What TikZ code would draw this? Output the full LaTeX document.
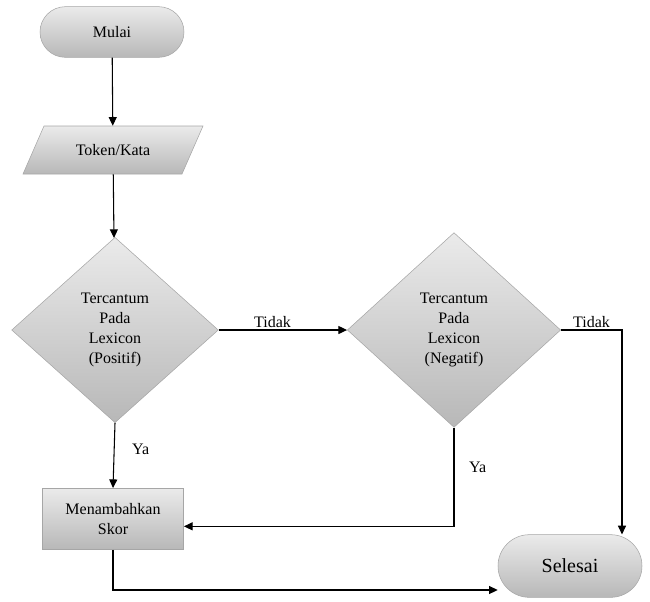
\documentclass[tikz,border=0pt]{standalone}
\usepackage{fontspec}
\setmainfont{Liberation Serif}
\usetikzlibrary{shapes.geometric,shapes.misc,arrows.meta}

\begin{document}
\begin{tikzpicture}[x=0.75pt,y=-0.75pt,
        shade box/.style={draw=black!35, top color=black!8, bottom color=black!28, align=center, inner sep=0pt},
        terminal/.style={shade box, rounded rectangle, minimum width=108pt},
        decision/.style={shade box, diamond, font=\fontsize{12}{15}\selectfont},
        flow/.style={-{Triangle[length=6.5pt,width=6pt]}, black, thick},
        label/.style={font=\fontsize{12}{14}\selectfont, inner sep=1pt}]
        \useasboundingbox (0,0) rectangle (650,601);

        % input block (parallelogram)
        \path[shade box] (44,126) -- (203,126) -- (182,174) -- (23,174) -- cycle;

        \node[terminal, minimum height=38pt, font=\fontsize{12}{14}\selectfont] (mulai) at (112,32) {Mulai};
        \node[inner sep=0pt, minimum width=100pt, minimum height=36pt, font=\fontsize{12}{14}\selectfont] (token) at (113,150) {Token/Kata};
        \node[decision, minimum width=155pt, minimum height=139pt] (pos) at (115,330) {Tercantum\\Pada\\Lexicon\\(Positif)};
        \node[decision, minimum width=160pt, minimum height=146pt] (neg) at (454,330) {Tercantum\\Pada\\Lexicon\\(Negatif)};
        \node[shade box, rectangle, minimum width=106pt, minimum height=46pt, font=\fontsize{12}{15}\selectfont] (skor) at (113,519) {Menambahkan\\Skor};
        \node[terminal, minimum height=47pt, font=\fontsize{15}{17}\selectfont] (selesai) at (570,566) {Selesai};

        \coordinate (tidak2) at (622,330);
        \coordinate (ya2) at ([yshift=-5.5pt]skor.east);
        \coordinate (akhir) at ([yshift=-18pt]selesai.west);

        \draw[flow] (mulai) -- (token);
        \draw[flow] (token) -- (pos);
        \draw[flow] (pos.east) -- node[label, above, pos=0.42] {Tidak} (neg.west);
        \draw[flow] (neg.east) -- node[label, above] {Tidak} (tidak2) -- (tidak2 |- selesai.north);
        \draw[flow] (pos.south) -- node[label, right=12pt, pos=0.4] {Ya} (skor.north);
        \draw[flow] (neg.south) |- node[label, right=10pt, pos=0.2] {Ya} (ya2);
        \draw[flow] (skor.south) |- (akhir);
    \end{tikzpicture}
\end{document}
